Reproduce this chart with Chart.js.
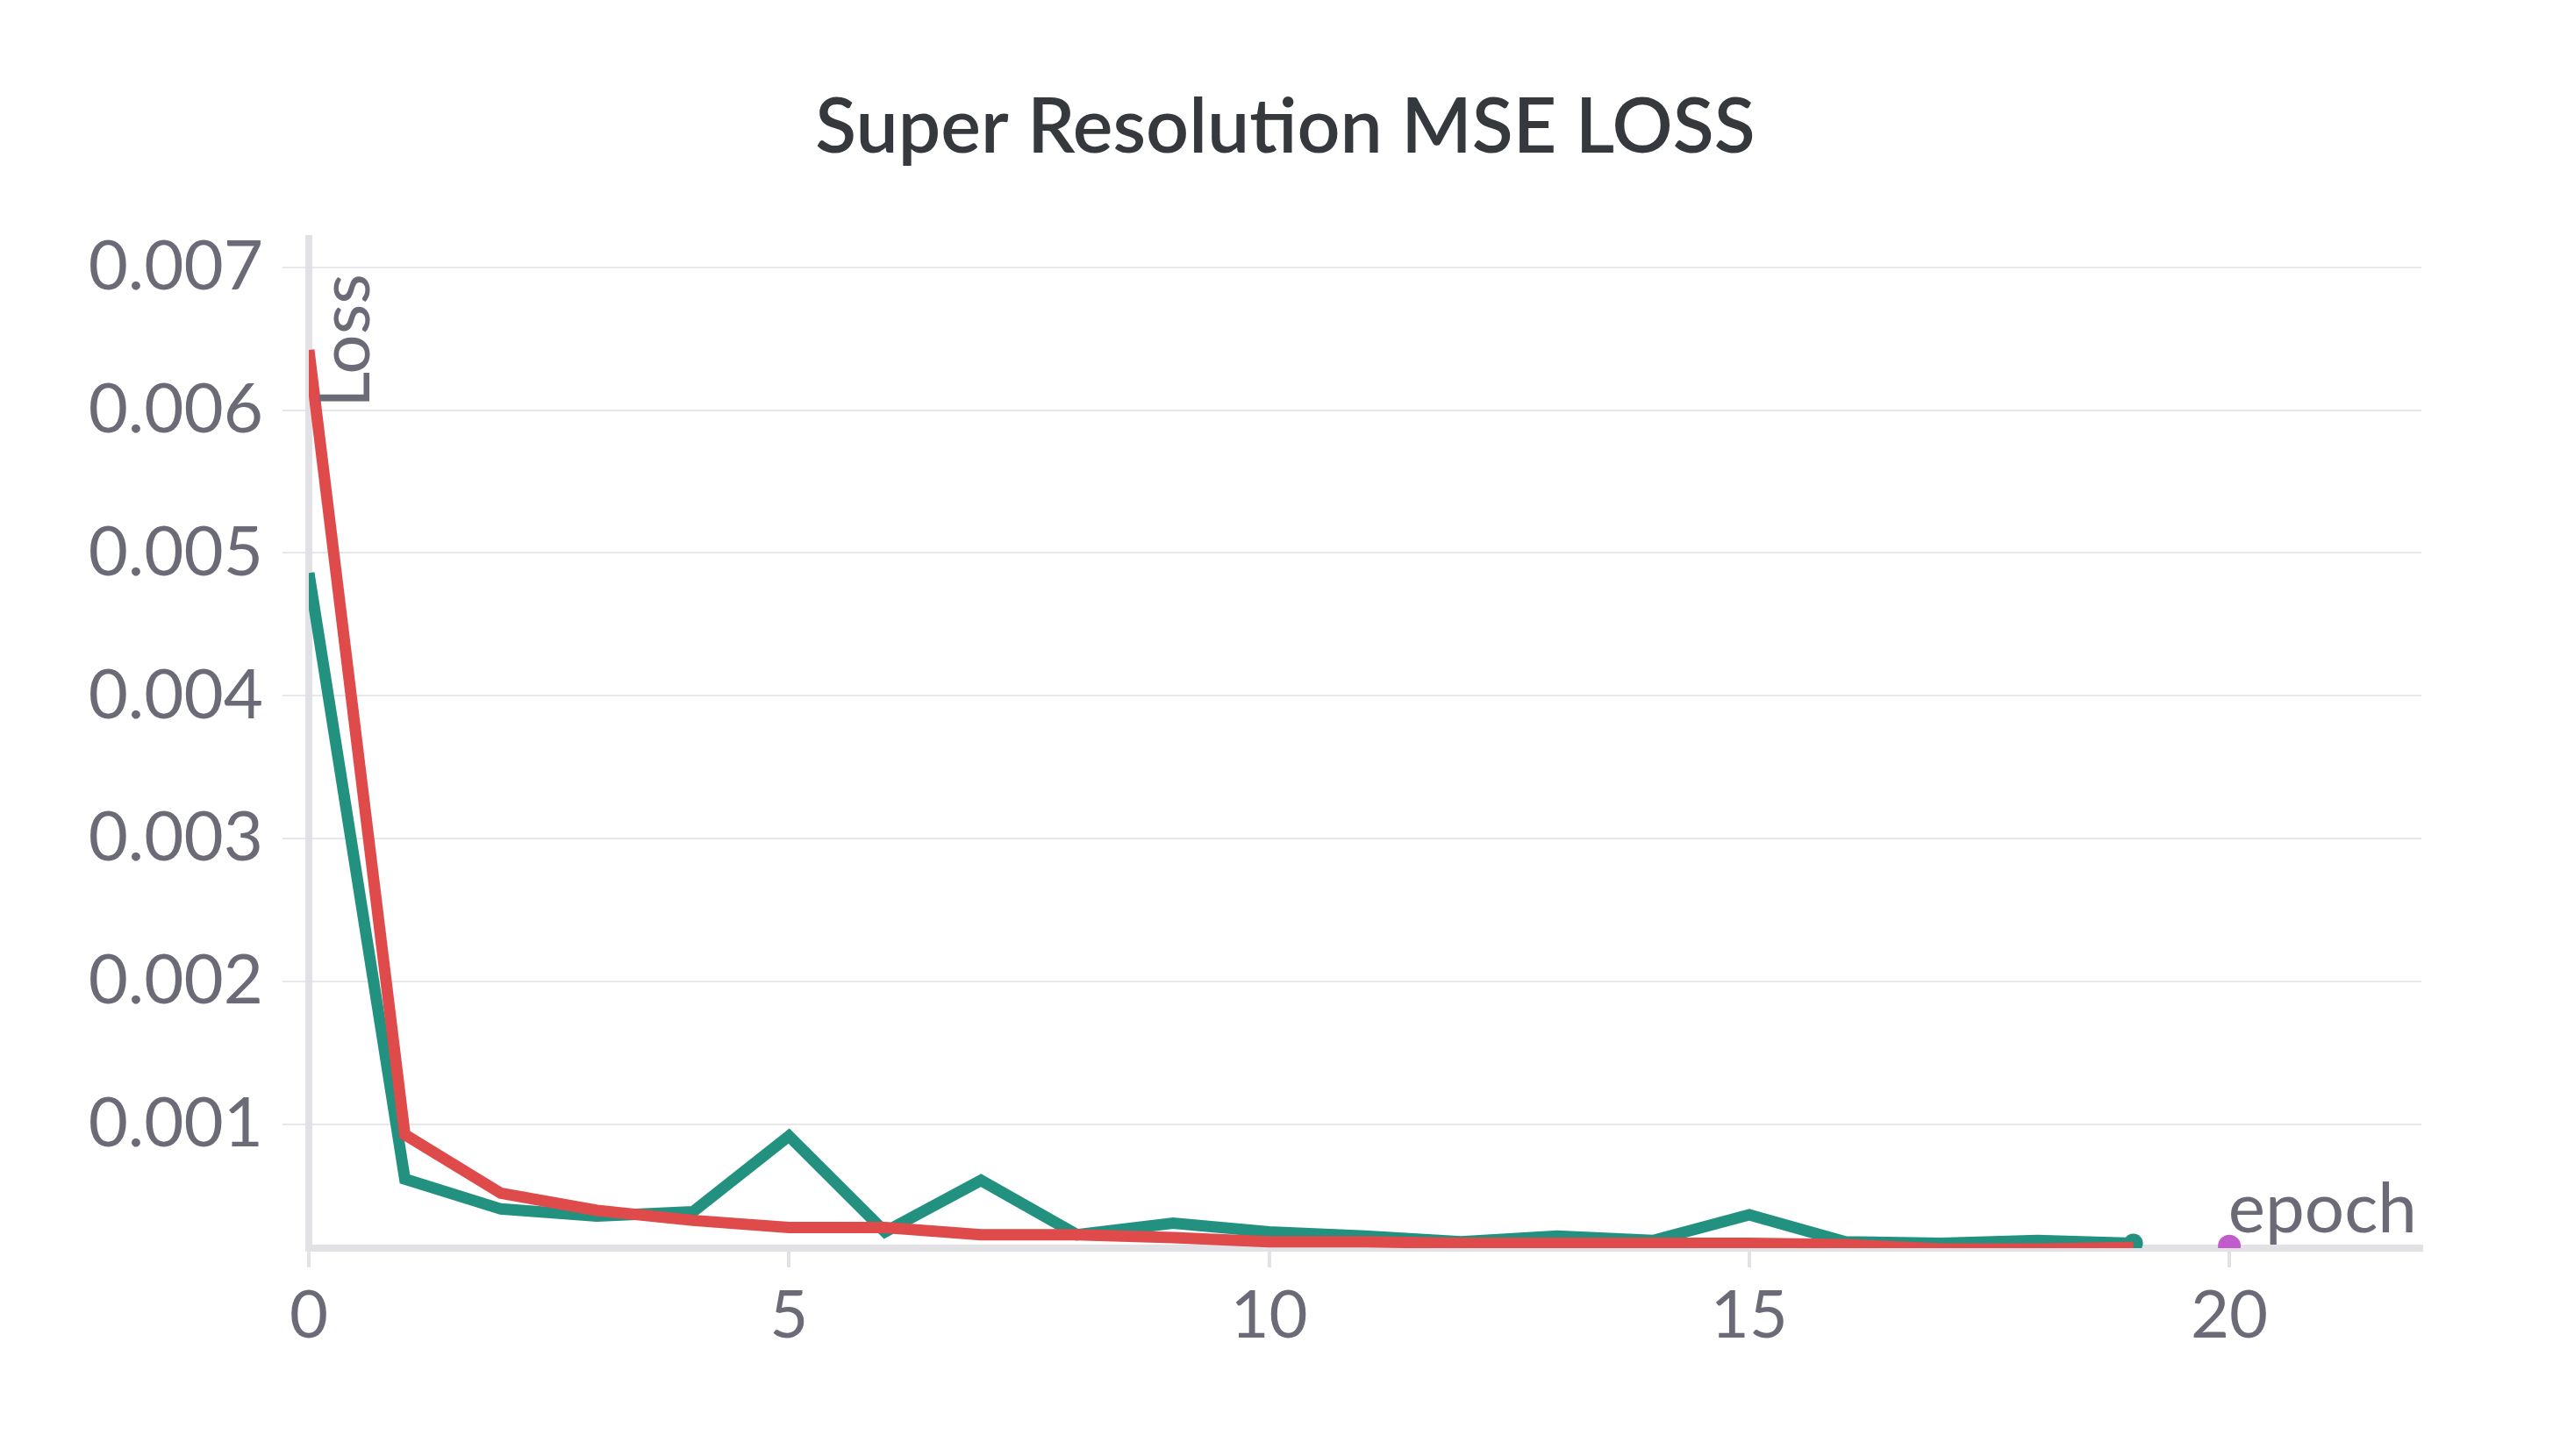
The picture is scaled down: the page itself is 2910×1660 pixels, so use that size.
<!DOCTYPE html>
<html><head><meta charset="utf-8">
<script src="https://cdn.jsdelivr.net/npm/chart.js@4"></script>
<style>html,body{margin:0;background:#fff}#c{display:block}</style>
</head><body>
<div style="width:2910px;height:1660px"><canvas id="c"></canvas></div>
<script>
const epochs = [0,1,2,3,4,5,6,7,8,9,10,11,12,13,14,15,16,17,18,19];
const redLoss = [0.00642,0.00093,0.00052,0.00040,0.00033,0.00028,0.00028,0.00023,0.00023,0.00021,0.00018,0.00018,0.00017,0.00017,0.00017,0.00017,0.00016,0.00013,0.00013,0.00014];
const greenLoss = [0.00486,0.00062,0.00041,0.00036,0.00039,0.00092,0.00025,0.00061,0.00023,0.00031,0.00025,0.00022,0.00018,0.00022,0.00019,0.00037,0.00018,0.00017,0.00019,0.00017];
const purplePoint = [{x:20, y:0.00015}];
const yTicks = [0.001,0.002,0.003,0.004,0.005,0.006,0.007];

const font = "'Source Sans Pro', Lato, 'Noto Sans', sans-serif";
const textColor = '#6b6b78';

const labels = {
  id: 'labels',
  afterDraw(chart) {
    const ctx = chart.ctx;
    ctx.save();
    ctx.fillStyle = '#35383d';
    ctx.font = '600 86px ' + font;
    ctx.textAlign = 'center';
    ctx.textBaseline = 'middle';
    ctx.fillText('Super Resolution MSE LOSS', 1465, 146);
    ctx.fillStyle = textColor;
    ctx.font = '80px ' + font;
    ctx.textAlign = 'right';
    ctx.textBaseline = 'alphabetic';
    ctx.fillText('epoch', 2755, 1405);
    ctx.translate(435, 300);
    ctx.rotate(-Math.PI / 2);
    ctx.textAlign = 'right';
    ctx.textBaseline = 'bottom';
    ctx.fillText('Loss', -12, 0);
    ctx.restore();
  }
};

new Chart(document.getElementById('c'), {
  type: 'line',
  data: {
    datasets: [{
      data: redLoss.map((v, i) => ({x: epochs[i], y: v})),
      borderColor: '#df4b4b', borderWidth: 13, pointRadius: 0, fill: false
    }, {
      data: greenLoss.map((v, i) => ({x: epochs[i], y: v})),
      borderColor: '#23917f', borderWidth: 13, fill: false,
      pointRadius: greenLoss.map((v, i) => i === greenLoss.length - 1 ? 11 : 0),
      pointBackgroundColor: '#23917f', pointBorderWidth: 0
    }, {
      data: purplePoint, showLine: false,
      pointRadius: 13, pointBackgroundColor: '#c25ccc', pointBorderWidth: 0
    }]
  },
  options: {
    responsive: true, maintainAspectRatio: false, animation: false,
    layout: {padding: {top: 272, right: 150, left: 0, bottom: 0}},
    plugins: {legend: {display: false}, tooltip: {enabled: false}},
    scales: {
      x: {
        type: 'linear', min: 0, max: 22,
        afterFit: s => { s.height = 237; },
        afterBuildTicks: s => { s.ticks = [0,5,10,15,20].map(v => ({value: v})); },
        ticks: {color: textColor, font: {size: 76, family: font}, padding: 10, maxRotation: 0},
        grid: {display: true, drawOnChartArea: false, color: '#e2e2e6', lineWidth: 4, tickLength: 22},
        border: {color: '#e2e2e6', width: 8}
      },
      y: {
        min: 0.000136, max: 0.0072,
        afterFit: s => { s.width = 352; },
        afterBuildTicks: s => { s.ticks = yTicks.map(v => ({value: v})); },
        ticks: {color: textColor, font: {size: 78, family: font}, padding: 22, callback: v => v.toFixed(3)},
        grid: {color: '#e8e8ea', lineWidth: 2, tickLength: 30},
        border: {color: '#e2e2e6', width: 8}
      }
    }
  },
  plugins: [labels]
});
</script>
</body></html>
